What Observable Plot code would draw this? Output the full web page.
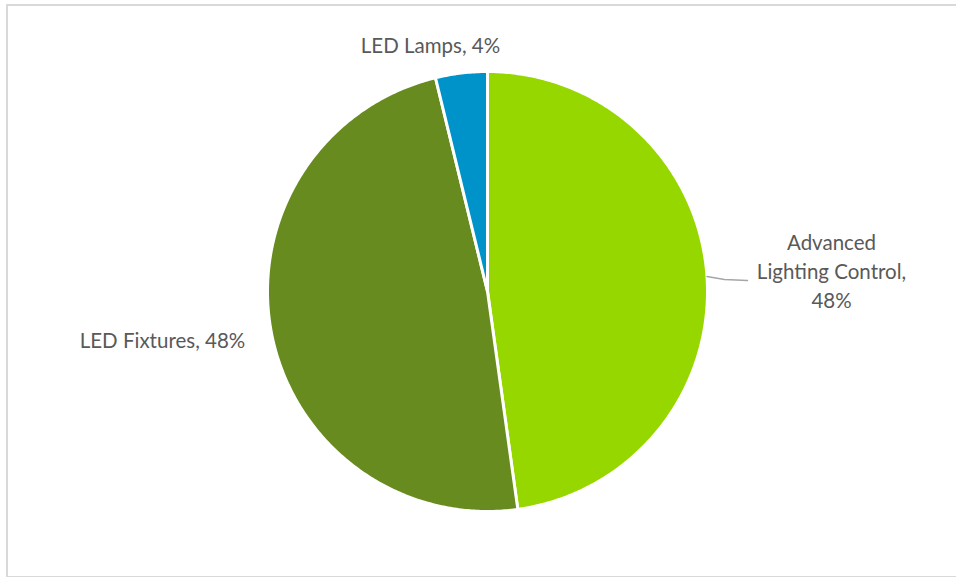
<!DOCTYPE html>
<html><head><meta charset="utf-8">
<script src="https://cdn.jsdelivr.net/npm/d3@7"></script>
<script src="https://cdn.jsdelivr.net/npm/@observablehq/plot@0.6"></script>
<style>
body{margin:0;background:#fff;}
#wrap{position:relative;width:956px;height:577px;overflow:hidden;}
#border{position:absolute;left:6px;top:4px;width:960px;height:570px;border:2px solid #d9d9d9;}
#chart{position:absolute;left:0;top:0;}
</style></head><body>
<div id="wrap"><div id="border"></div><div id="chart"></div></div>
<script>
const categories = ["Advanced Lighting Control", "LED Fixtures", "LED Lamps"];
const shares = [47.8, 48.4, 3.8];
const labelText = ["Advanced\nLighting Control,\n48%", "LED Fixtures, 48%", "LED Lamps, 4%"];
const colors = ["#97d700", "#678b1f", "#0093c9"];

// layout
const W = 956, H = 577, CX = 487, CY = 291, R = 220;
const labelPx = [[831, 269], [162, 338], [430, 43]];
const toU = (px, py) => ({x: (px - CX) / R, y: (CY - py) / R});

const pie = d3.pie().sort(null).value(d => d)(shares);
const slicePts = [];
pie.forEach((p, i) => {
  const n = Math.max(2, Math.ceil((p.endAngle - p.startAngle) / 0.01));
  slicePts.push({cat: categories[i], x: 0, y: 0});
  for (let k = 0; k <= n; k++) {
    const a = p.startAngle + (p.endAngle - p.startAngle) * k / n;
    slicePts.push({cat: categories[i], x: Math.sin(a), y: Math.cos(a)});
  }
  slicePts.push({cat: categories[i], x: 0, y: 0});
});

const labels = categories.map((c, i) => ({cat: c, text: labelText[i], ...toU(...labelPx[i])}));

// leader line for first slice
const la = Math.acos((CY - 276) / R);
const leader = [{x: Math.sin(la), y: Math.cos(la)}, toU(724, 279), toU(747, 280)];

const chart = Plot.plot({
  width: W, height: H, margin: 0,
  x: {domain: [-1, 1], range: [CX - R, CX + R], axis: null},
  y: {domain: [-1, 1], range: [CY + R, CY - R], axis: null},
  color: {domain: categories, range: colors},
  style: {fontFamily: "Lato, 'Open Sans', sans-serif", fontSize: "20.5px", background: "transparent"},
  marks: [
    Plot.line(slicePts, {x: "x", y: "y", z: "cat", fill: "cat", stroke: "white", strokeWidth: 3, strokeLinejoin: "round"}),
    Plot.line(leader, {x: "x", y: "y", stroke: "#a6a6a6", strokeWidth: 1.5}),
    Plot.text(labels, {x: "x", y: "y", text: "text", fill: "#595959", fontSize: 20.5, lineHeight: 1.42, textAnchor: "middle"})
  ]
});
document.getElementById("chart").appendChild(chart);
</script>
</body></html>
